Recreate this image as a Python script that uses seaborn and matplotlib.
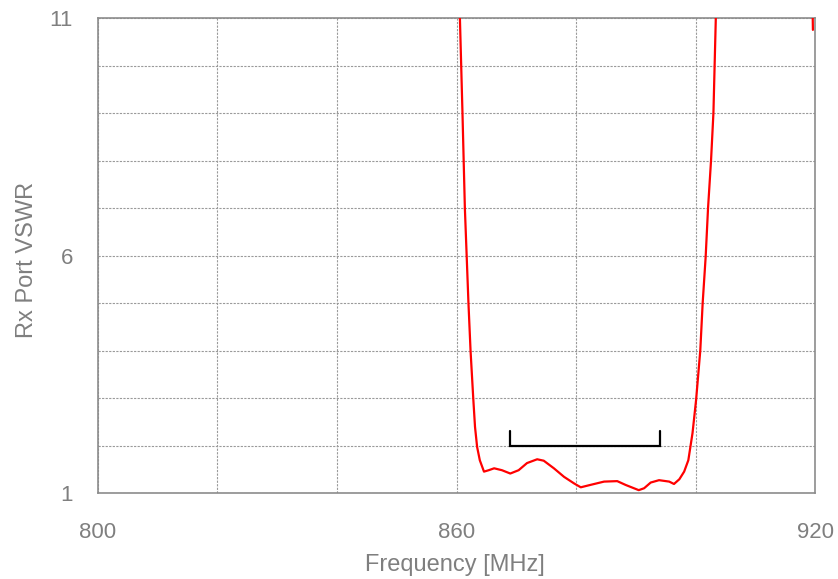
import matplotlib
matplotlib.use("Agg")
import matplotlib.pyplot as plt
import seaborn as sns
import pandas as pd

# ---- data ----
freq = [860.45, 860.57, 861.0, 861.4, 862.0, 862.35, 862.8, 863.1, 863.45, 863.9,
        864.6, 865.4, 866.3, 867.6, 869.0, 870.4, 871.8, 873.5, 874.6, 876.3,
        878.0, 879.7, 880.8, 882.4, 884.7, 886.9, 888.3, 890.5, 891.4, 892.5,
        893.9, 895.6, 896.4, 897.3, 898.1, 898.8, 899.5, 900.1, 900.8, 901.2,
        901.7, 902.1, 902.6, 903.0, 903.4, 903.6, 919.55, 919.65]
vswr = [11.56, 11.0, 9.0, 7.0, 5.0, 4.0, 3.0, 2.39, 1.97, 1.69,
        1.45, 1.48, 1.52, 1.48, 1.41, 1.48, 1.63, 1.71, 1.68, 1.52,
        1.34, 1.20, 1.12, 1.17, 1.24, 1.25, 1.17, 1.06, 1.10, 1.22,
        1.27, 1.24, 1.19, 1.29, 1.45, 1.69, 2.26, 2.96, 4.0, 5.0,
        5.97, 7.0, 8.0, 9.0, 11.0, 11.6, 11.6, 10.75]

band_freq = [869, 894]          # band marker (MHz)
band_level = 2.0                # VSWR spec level
band_tick_top = 2.3

x_ticks = [800, 820, 840, 860, 880, 900, 920]
x_tick_labels = ["800", "", "", "860", "", "", "920"]
y_ticks = [1, 2, 3, 4, 5, 6, 7, 8, 9, 10, 11]
y_tick_labels = ["1", "", "", "", "", "6", "", "", "", "", "11"]

# ---- plotting ----
sns.set_theme(style="white")
plt.rcParams["font.family"] = ["Liberation Sans", "DejaVu Sans"]

fig = plt.figure(figsize=(8.38, 5.79), dpi=100)
ax = fig.add_axes([98 / 838, 86 / 579, 717 / 838, 475 / 579])

df = pd.DataFrame({"Frequency": freq, "VSWR": vswr})
sns.lineplot(data=df, x="Frequency", y="VSWR", sort=False, estimator=None,
             color="#ff0000", linewidth=1.6, ax=ax, zorder=3)

ax.plot([band_freq[0], band_freq[0], band_freq[1], band_freq[1]],
        [band_tick_top, band_level, band_level, band_tick_top],
        color="black", linewidth=1.6, zorder=4, solid_joinstyle="miter")

ax.set_xlim(800, 920)
ax.set_ylim(1, 11)
ax.set_xticks(x_ticks)
ax.set_xticklabels(x_tick_labels)
ax.set_yticks(y_ticks)
ax.set_yticklabels(y_tick_labels)

text_color = "#7f7f7f"
ax.tick_params(axis="both", length=0, labelsize=16, labelcolor=text_color)
ax.tick_params(axis="x", pad=21)
ax.tick_params(axis="y", pad=18)

ax.grid(True, color="#9a9a9a", linestyle=(0, (2.0, 1.2)), linewidth=0.8)
for s in ax.spines.values():
    s.set_color("#8c8c8c")
    s.set_linewidth(1.2)

ax.set_xlabel("Frequency [MHz]", fontsize=17, color=text_color)
ax.set_ylabel("Rx Port VSWR", fontsize=17, color=text_color)
ax.xaxis.set_label_coords((455 - 98) / 717, (493 - 565) / 475)
ax.yaxis.set_label_coords((27 - 98) / 717, (493 - 260) / 475)
ax.xaxis.label.set_va("center")
ax.yaxis.label.set_va("center")

fig.savefig("out.png", dpi=100)
